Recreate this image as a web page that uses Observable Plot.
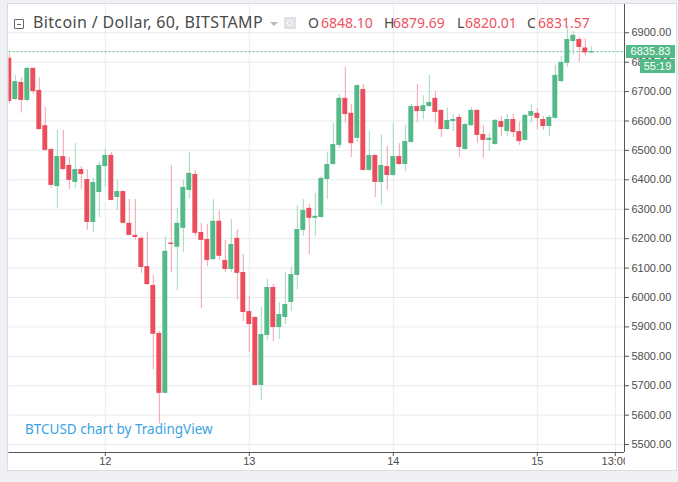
<!DOCTYPE html>
<html><head><meta charset="utf-8">
<script src="https://cdn.jsdelivr.net/npm/d3@7"></script>
<script src="https://cdn.jsdelivr.net/npm/@observablehq/plot@0.6"></script>
<style>
html,body{margin:0;padding:0}
body{background:#eef0f3;width:678px;height:482px;overflow:hidden;position:relative;font-family:"Noto Sans",sans-serif}
#panel{position:absolute;left:7px;top:3px;width:668px;height:466px;background:#fff;border:1px solid #d9dde2}
#chart{position:absolute;left:0;top:0}
.t{position:absolute;white-space:nowrap;font-size:14px;line-height:16px;top:15px}
.title{font-size:16px;letter-spacing:0.35px;top:13.5px}
.dk{color:#4a4a4a}.rd{color:#ef5161}
#icon{position:absolute;left:14px;top:19px;width:8px;height:8px;border:1px solid #666;border-radius:1px}
#icon:after{content:"";position:absolute;left:2px;top:3.5px;width:4px;height:1px;background:#666}
#arrow{position:absolute;left:270px;top:22px;width:0;height:0;border-left:4px solid transparent;border-right:4px solid transparent;border-top:4px solid #b5b9bf}
#eye{position:absolute;left:284px;top:17px;width:12px;height:12px;background:#dfe2e6}
#eye:after{content:"";position:absolute;left:3px;top:3px;width:4px;height:4px;border:1px solid #fff;border-radius:50%}
#wm{position:absolute;left:25px;top:420px;font-size:13.5px;color:#3aa3e3;white-space:nowrap}
.box{position:absolute;background:#53b987;color:#fff;font-family:"Liberation Sans",Arial,sans-serif;font-size:11px;line-height:13px;text-align:center}
#clip{position:absolute;left:625px;top:453px;width:49px;height:16px;background:#fff}
</style></head>
<body>
<div id="panel"></div>
<div id="chart"></div>
<div id="clip"></div>
<div id="icon"></div>
<div class="t title dk" style="left:33px">Bitcoin / Dollar, 60, BITSTAMP</div>
<div id="arrow"></div>
<div id="eye"></div>
<div id="ohlc"></div>
<div id="wm">BTCUSD chart by TradingView</div>
<script>
// hour index: hours since day 11 00:00 of the first candle
const startHour = 8;
const open = [6813,6673,6731,6670,6779,6704,6584,6503,6377,6479,6449,6391,6435,6401,6255,6357,6445,6483,6340,6360,6252,6211,6201,6105,6041,5878,5674,6185,6171,6235,6364,6418,6221,6197,6129,6259,6126,6095,6201,6085,5952,5932,5701,5871,6034,5898,5932,5983,6075,6228,6303,6269,6272,6401,6452,6517,6677,6626,6541,6707,6432,6483,6391,6445,6415,6479,6452,6527,6649,6632,6649,6677,6636,6571,6598,6612,6503,6584,6636,6554,6534,6520,6598,6564,6605,6564,6534,6616,6626,6605,6581,6609,6734,6796,6870,6877,6848.10,6831.57];
const high = [6830,6755,6748,6782,6779,6748,6646,6507,6568,6568,6476,6523,6445,6435,6405,6459,6507,6493,6398,6362,6333,6333,6207,6221,6075,5885,6207,6449,6303,6398,6493,6432,6252,6248,6333,6296,6194,6265,6231,6146,6003,5935,5966,6062,6045,5983,6085,6105,6313,6333,6316,6354,6412,6493,6592,6690,6782,6656,6724,6724,6564,6485,6551,6513,6592,6523,6585,6656,6724,6686,6755,6700,6638,6643,6622,6622,6592,6646,6638,6585,6558,6605,6616,6622,6622,6595,6622,6656,6643,6616,6619,6789,6819,6921,6904,6884,6879.69,6853];
const low = [6660,6670,6627,6663,6690,6568,6497,6371,6302,6432,6367,6371,6367,6228,6221,6272,6374,6328,6296,6250,6209,6194,6082,6041,5755,5570,5672,6085,6024,6153,6333,6208,5963,6105,6126,6126,6085,6085,5990,5918,5813,5700,5650,5854,5850,5857,5908,5952,6027,6208,6146,6208,6270,6333,6449,6507,6592,6476,6527,6430,6428,6340,6313,6364,6411,6450,6428,6525,6595,6605,6646,6592,6544,6568,6564,6476,6500,6582,6523,6473,6496,6518,6548,6548,6544,6517,6532,6592,6571,6568,6548,6605,6730,6782,6823,6799,6820.01,6828];
const close = [6666,6734,6670,6779,6700,6571,6500,6381,6479,6435,6398,6435,6418,6255,6391,6449,6483,6330,6360,6252,6211,6204,6102,6044,5875,5674,6157,6180,6252,6374,6422,6218,6194,6126,6259,6140,6095,6180,6082,5949,5908,5701,5874,6034,5898,5942,5976,6078,6231,6296,6269,6276,6405,6452,6520,6677,6622,6523,6720,6432,6483,6391,6449,6415,6479,6452,6530,6649,6632,6652,6663,6629,6571,6602,6605,6510,6588,6636,6551,6534,6541,6602,6578,6605,6561,6530,6619,6632,6609,6581,6612,6755,6799,6877,6891,6850,6831.57,6835.83];
const lastPrice = 6835.83;
const countdown = "55:19";
const header = {O:"6848.10", H:"6879.69", L:"6820.01", C:"6831.57"};
const yTicks = [5500,5600,5700,5800,5900,6000,6100,6200,6300,6400,6500,6600,6700,6800,6900];
const xTicks = [24,48,72,96,109];
const xLabels = ["12","13","14","15","13:00"];

const UP="#53b987", DOWN="#eb4d5c", UPW="#9fd9bd", DOWNW="#f6a1aa";
const candles = open.map((o,i)=>({t:startHour+i, open:o, high:high[i], low:low[i], close:close[i], up: close[i]>=o}));
const xDomain=[7.95,110.53], yDomain=[5473,6996];
const labelOf = new Map(xTicks.map((d,i)=>[d,xLabels[i]]));

const plot = Plot.plot({
  width:678, height:482,
  marginLeft:8.5, marginRight:54, marginTop:4, marginBottom:30,
  style:{background:"transparent", fontFamily:"'Liberation Sans',Arial,sans-serif", fontSize:"11px", color:"#4d4d4d", overflow:"visible"},
  x:{domain:xDomain},
  y:{domain:yDomain},
  marks:[
    Plot.gridY(yTicks,{stroke:"#e5ebf0", strokeOpacity:1}),
    Plot.gridX(xTicks,{stroke:"#e5ebf0", strokeOpacity:1}),
    Plot.ruleY([lastPrice],{stroke:UP, strokeDasharray:"2,2", strokeWidth:1}),
    Plot.ruleX(candles,{x:"t", y1:"low", y2:"high", stroke:d=>d.up?UPW:DOWNW, strokeWidth:1, clip:true}),
    Plot.rect(candles,{x1:d=>d.t-0.41, x2:d=>d.t+0.41, y1:"open", y2:"close", fill:d=>d.up?UP:DOWN, clip:true}),
    Plot.ruleX([xDomain[1]],{stroke:"#555", strokeWidth:1}),
    Plot.ruleY([yDomain[0]],{stroke:"#555", strokeWidth:1}),
    Plot.axisY(yTicks,{anchor:"right", tickSize:4, tickPadding:3, tickFormat:d=>d.toFixed(2), stroke:"#555", fill:"#4d4d4d", label:null}),
    Plot.axisX(xTicks,{anchor:"bottom", tickSize:4, tickPadding:1, tickFormat:d=>labelOf.get(d), stroke:"#555", fill:"#4d4d4d", label:null})
  ]
});
document.getElementById("chart").appendChild(plot);

// header OHLC values
const ohlc = document.getElementById("ohlc");
const pos = {O:[308,321], H:[384,393], L:[457,465], C:[527,538]};
for (const k of ["O","H","L","C"]) {
  const a=document.createElement("div"); a.className="t dk"; a.style.left=pos[k][0]+"px"; a.textContent=k; ohlc.appendChild(a);
  const b=document.createElement("div"); b.className="t rd"; b.style.left=pos[k][1]+"px"; b.textContent=header[k]; ohlc.appendChild(b);
}
// last price label and countdown
const yp = plot.scale("y").apply(lastPrice);
const b1=document.createElement("div"); b1.className="box"; b1.style.cssText+=`left:626px;top:${yp-6.5}px;width:49px;height:13px`; b1.textContent=lastPrice.toFixed(2); document.body.appendChild(b1);
const b2=document.createElement("div"); b2.className="box"; b2.style.cssText+=`left:640px;top:${yp+8}px;width:35px;height:14px;line-height:14px`; b2.textContent=countdown; document.body.appendChild(b2);
</script>
</body></html>
